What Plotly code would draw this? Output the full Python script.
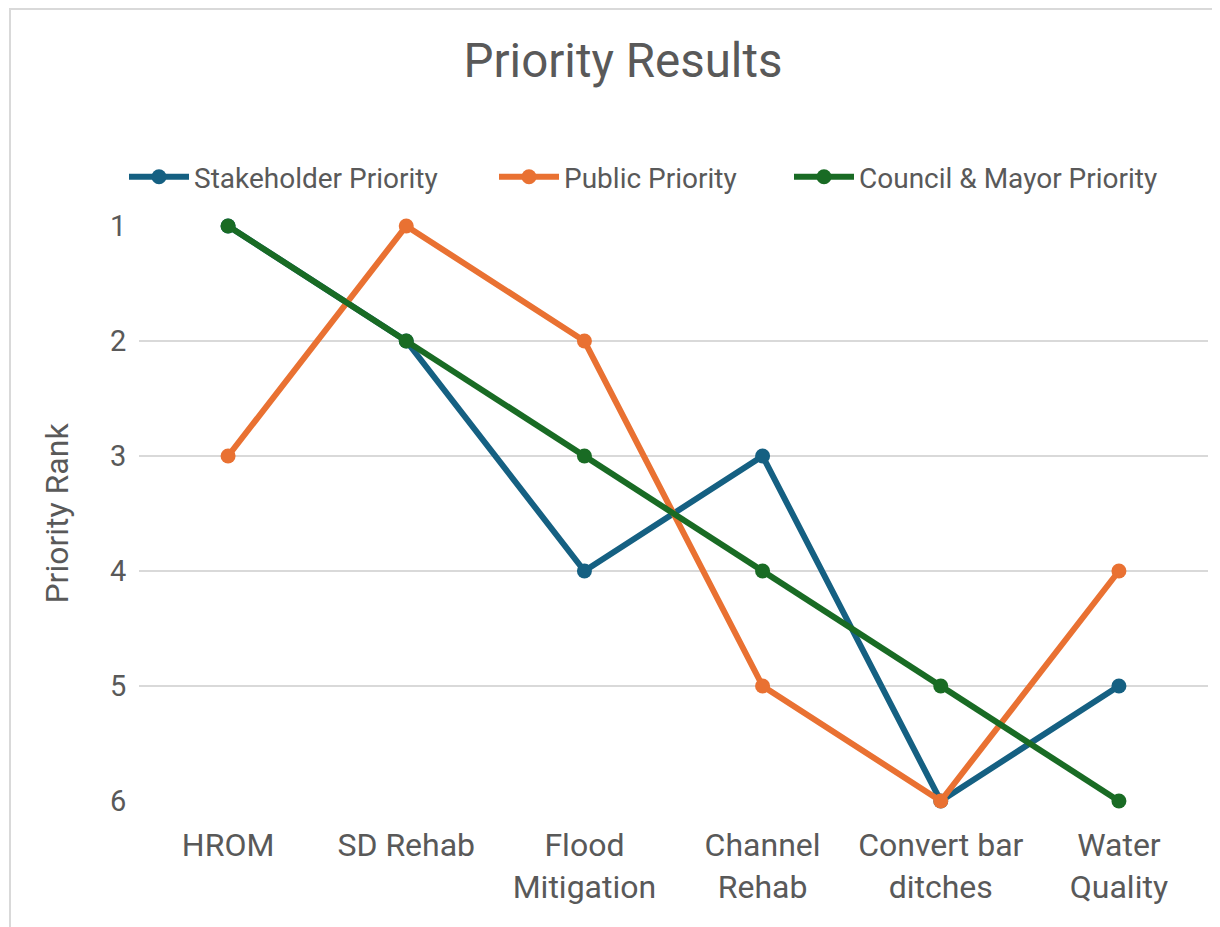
import plotly.graph_objects as go

categories = ["HROM", "SD Rehab", "Flood<br>Mitigation", "Channel<br>Rehab", "Convert bar<br>ditches", "Water<br>Quality"]
stakeholder = [1, 2, 4, 3, 6, 5]
public = [3, 1, 2, 5, 6, 4]
council = [1, 2, 3, 4, 5, 6]
y_ticks = [1, 2, 3, 4, 5, 6]

series_names = ["Stakeholder Priority", "Public Priority", "Council & Mayor Priority"]
series_values = [stakeholder, public, council]
series_colors = ["#156082", "#E97132", "#196B24"]
legend_x_px = [124, 494, 789]  # legend box left edges (page px)

FONT = "Roboto, Arial, sans-serif"
TXT = "#595959"
OFF = 8  # browser body margin

W, H = 1220, 927
L, R, T, B = 139 - OFF, 20, 226 - OFF, 927 - (801 - OFF)
pw, ph = W - L - R, H - T - B


def px(x):
    return (x - OFF - L) / pw


def py(y):
    return (H - B - (y - OFF)) / ph


fig = go.Figure()
legend_ids = ["legend", "legend2", "legend3"]
for name, vals, col, lid in zip(series_names, series_values, series_colors, legend_ids):
    fig.add_trace(go.Scatter(
        x=categories, y=vals, name=name, mode="lines+markers",
        line=dict(color=col, width=6),
        marker=dict(color=col, size=15),
        cliponaxis=False, legend=lid,
    ))

legend_common = dict(orientation="h", xanchor="left", yanchor="middle",
                     font=dict(size=28, color=TXT, family=FONT), itemwidth=60,
                     bgcolor="rgba(0,0,0,0)")

fig.update_layout(
    width=W, height=H,
    margin=dict(l=L, r=R, t=T, b=B),
    paper_bgcolor="white", plot_bgcolor="white",
    font=dict(family=FONT, color=TXT, size=28),
    title=dict(text="Priority Results", xref="container", x=(623 - OFF) / W, xanchor="center",
               y=1 - (60 - OFF) / H, yanchor="middle",
               font=dict(size=47.5, color=TXT, family=FONT)),
    showlegend=True,
    legend=dict(x=px(legend_x_px[0]), y=py(177), **legend_common),
    legend2=dict(x=px(legend_x_px[1]), y=py(177), **legend_common),
    legend3=dict(x=px(legend_x_px[2]), y=py(177), **legend_common),
    xaxis=dict(
        showgrid=False, showline=False, zeroline=False,
        ticks="outside", ticklen=16, tickcolor="rgba(0,0,0,0)",
        tickfont=dict(size=32, color=TXT, family=FONT),
        range=[-0.5, 5.5],
    ),
    yaxis=dict(
        autorange=False, range=[6, 1],
        tickvals=y_ticks, ticktext=[str(v) for v in y_ticks],
        showgrid=True, gridcolor="#D9D9D9", gridwidth=2,
        zeroline=False, showline=False,
        ticks="outside", ticklen=6, tickcolor="rgba(0,0,0,0)",
        tickfont=dict(size=29, color=TXT, family=FONT),
        title=dict(text="Priority Rank", font=dict(size=32, color=TXT, family=FONT), standoff=31),
    ),
    shapes=[dict(type="rect", xref="paper", yref="paper",
                 x0=px(10), x1=px(1240), y0=py(950), y1=py(OFF + 1),
                 line=dict(color="#D9D9D9", width=2), fillcolor="rgba(0,0,0,0)", layer="below")],
)

fig.write_html("out.html")
